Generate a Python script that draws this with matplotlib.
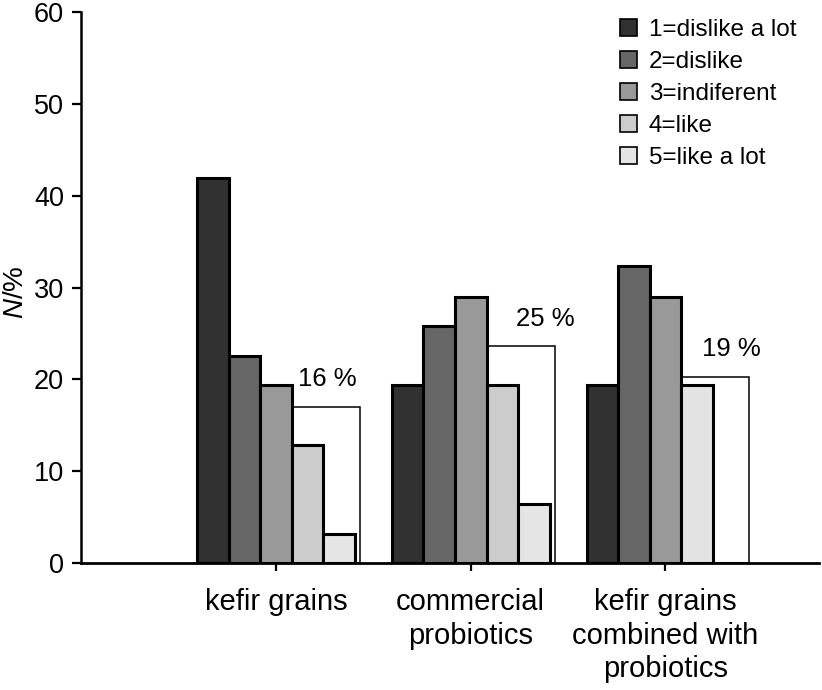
import matplotlib
matplotlib.use('Agg')
import matplotlib.pyplot as plt
from matplotlib.patches import Patch
import numpy as np

plt.rcParams['font.family'] = ['Liberation Sans', 'DejaVu Sans']
plt.rcParams['mathtext.fontset'] = 'custom'
plt.rcParams['mathtext.it'] = 'Liberation Sans:italic'
plt.rcParams['mathtext.rm'] = 'Liberation Sans'

categories = ["kefir grains", "commercial\nprobiotics", "kefir grains\ncombined with\nprobiotics"]
series_labels = ["1=dislike a lot", "2=dislike", "3=indiferent", "4=like", "5=like a lot"]
dislike_a_lot = [41.9, 19.4, 19.4]
dislike = [22.6, 25.8, 32.3]
indifferent = [19.4, 29.0, 29.0]
like = [12.9, 19.4, 19.4]
like_a_lot = [3.2, 6.5, 0.0]
box_heights = [17.0, 23.6, 20.3]
box_labels = ["16 %", "25 %", "19 %"]

colors = ['#313131', '#666666', '#999999', '#cccccc', '#e5e5e5']

fig = plt.figure(figsize=(8.22, 6.9), dpi=100)
ax = fig.add_axes([0.0989, 0.1836, 0.8978, 0.7994])

x = np.arange(len(categories))
w = 0.162
series = [dislike_a_lot, dislike, indifferent, like, like_a_lot]

# outline box for "like" + "like a lot"
ax.bar(x + 0.5 * w, box_heights, width=2.16 * w, align='edge',
       facecolor='white', edgecolor='black', linewidth=1.1, zorder=1)

containers = []
for i, (vals, c) in enumerate(zip(series, colors)):
    bc = ax.bar(x + (i - 2) * w, vals, width=w, color=c, edgecolor='black',
                linewidth=2.2, zorder=2)
    containers.append(bc)
containers[3][2].set_facecolor('#e3e3e3')

label_dx = [1.62, 2.37, 2.1]
for j in range(len(categories)):
    ax.text(x[j] + label_dx[j] * w, box_heights[j] + 3.0, box_labels[j],
            ha='center', va='center', fontsize=18.5)

ax.set_xlim(-1.0, 2.79)
ax.set_ylim(0, 60)
ax.set_yticks(range(0, 61, 10))
ax.set_xticks(x)
ax.set_xticklabels(categories, linespacing=1.25)
for s in ['top', 'right']:
    ax.spines[s].set_visible(False)
ax.spines['left'].set_linewidth(1.8)
ax.spines['bottom'].set_linewidth(2.0)
ax.tick_params(axis='y', length=6.5, width=1.6, labelsize=19.5, pad=6)
ax.tick_params(axis='x', length=6, width=1.6, labelsize=21, pad=12)

ax.set_ylabel(r'$N$/%', fontsize=20)
ax.yaxis.set_label_coords(-0.089, 0.492)
ax.yaxis.label.set_verticalalignment('center')

handles = [Patch(facecolor=c, edgecolor='black', linewidth=1.2) for c in colors]
fig.legend(handles, series_labels, loc='upper left',
           bbox_to_anchor=(620 / 822, 1 - 19 / 690), frameon=False, fontsize=17.5,
           handlelength=0.68, handleheight=0.68, handletextpad=0.5,
           labelspacing=0.41, borderpad=0, borderaxespad=0)

fig.savefig('out.png', dpi=100)
